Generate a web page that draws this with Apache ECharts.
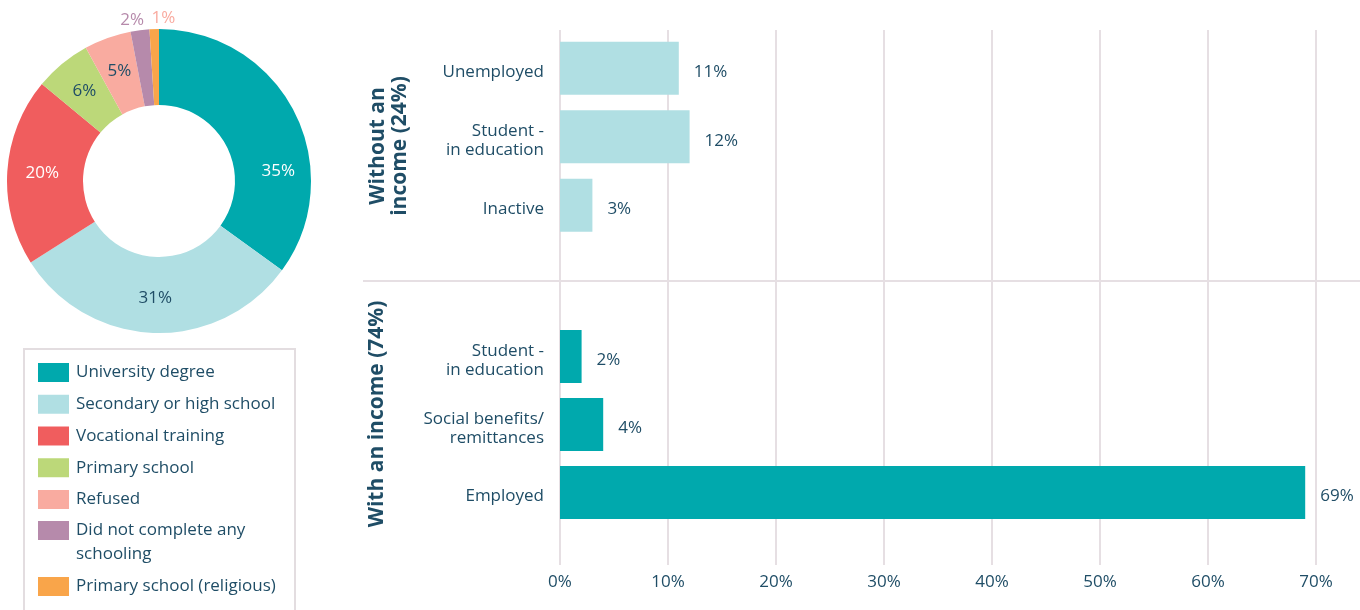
<!DOCTYPE html>
<html>
<head>
<meta charset="utf-8">
<script src="https://cdn.jsdelivr.net/npm/echarts@6/dist/echarts.min.js"></script>
<style>
  html, body { margin: 0; padding: 0; background: #ffffff; }
  #chart { width: 1360px; height: 610px; }
</style>
</head>
<body>
<div id="chart"></div>
<script>
// Education level of respondents (donut)
const educationLevels = [
  'University degree',
  'Secondary or high school',
  'Vocational training',
  'Primary school',
  'Refused',
  'Did not complete any schooling',
  'Primary school (religious)'
];
const educationShares = [35, 31, 20, 6, 5, 2, 1];

// Income situation (horizontal bars, two groups)
const withoutIncomeCategories = ['Unemployed', 'Student -\nin education', 'Inactive'];
const withoutIncomeValues = [11, 12, 3];
const withIncomeCategories = ['Student -\nin education', 'Social benefits/\nremittances', 'Employed'];
const withIncomeValues = [2, 4, 69];
const groupTitles = ['Without an\nincome (24%)', 'With an income (74%)'];
const percentTicks = [0, 10, 20, 30, 40, 50, 60, 70];

const FONT = '"Open Sans", "Noto Sans", sans-serif';
const FS = 17;
const NAVY = '#1f4d66';
const GRID_LINE = '#e6dfe3';
const sliceColors = ['#00a9ad', '#b0dfe3', '#f05d5e', '#bcd879', '#f9aba0', '#b68aab', '#f9a54a'];
const sliceLabelColors = ['#ffffff', NAVY, '#ffffff', NAVY, NAVY, '#b68aab', '#f9aba0'];
const outsideSlices = [5, 6];

const pieData = educationLevels.map((name, i) => ({
  name: name,
  value: educationShares[i],
  itemStyle: { color: sliceColors[i] },
  label: {
    color: sliceLabelColors[i],
    position: outsideSlices.includes(i) ? 'outside' : 'inside'
  }
}));

// The two-line legend entry gets an empty leading line so that its first
// visible line sits level with the swatch.
const legendText = name => name === 'Did not complete any schooling'
  ? '\nDid not complete any\nschooling' : name;

const legendBase = {
  orient: 'vertical',
  left: 38,
  padding: 0,
  itemWidth: 31,
  itemHeight: 19,
  icon: 'rect',
  selectedMode: false,
  formatter: legendText,
  textStyle: { fontSize: FS, color: NAVY, fontFamily: FONT, lineHeight: 24, padding: [0, 0, 0, 2] }
};

const tickMin = percentTicks[0];
const tickMax = percentTicks[percentTicks.length - 1];
const tickStep = percentTicks[1] - percentTicks[0];

const barLabel = {
  show: true,
  position: 'right',
  distance: 15,
  offset: [0, 4],
  formatter: '{c}%',
  fontSize: FS,
  color: NAVY,
  fontFamily: FONT
};

const categoryAxis = (gridIndex, data) => ({
  type: 'category',
  gridIndex: gridIndex,
  data: data,
  inverse: true,
  axisLine: { show: false },
  axisTick: { show: false },
  axisLabel: {
    fontSize: FS, lineHeight: 19, color: NAVY, fontFamily: FONT, margin: 16,
    padding: [8, 0, 0, 0],
    rich: { t: {} }
  }
});

const hiddenValueAxis = gridIndex => ({
  type: 'value', gridIndex: gridIndex, min: tickMin, max: tickMax, show: false
});

const option = {
  animation: false,
  backgroundColor: '#ffffff',
  textStyle: { fontFamily: FONT },
  legend: [
    Object.assign({}, legendBase, {
      top: 360.5,
      itemGap: 7.75,
      data: educationLevels.slice(0, 5)
    }),
    Object.assign({}, legendBase, {
      top: 494.5,
      itemGap: 8,
      data: educationLevels.slice(5)
    })
  ],
  grid: [
    { left: 560, right: 44, top: 30, bottom: 45 },
    { left: 560, right: 44, top: 34, height: 205.5 },
    { left: 560, right: 44, top: 322.5, height: 204 }
  ],
  xAxis: [
    {
      type: 'value',
      gridIndex: 0,
      min: tickMin,
      max: tickMax,
      interval: tickStep,
      axisLine: { show: false },
      axisTick: { show: false },
      splitLine: { show: true, lineStyle: { color: GRID_LINE, width: 2 } },
      axisLabel: { formatter: '{value}%', fontSize: FS, color: NAVY, fontFamily: FONT, margin: 9 }
    },
    hiddenValueAxis(1),
    hiddenValueAxis(2)
  ],
  yAxis: [
    { type: 'value', gridIndex: 0, show: false },
    categoryAxis(1, withoutIncomeCategories),
    categoryAxis(2, withIncomeCategories)
  ],
  graphic: [
    {
      type: 'rect',
      shape: { x: 24, y: 349, width: 271, height: 280 },
      style: { fill: 'none', stroke: '#e3dde0', lineWidth: 2 }
    },
    {
      type: 'line',
      shape: { x1: 363, y1: 281, x2: 1360, y2: 281 },
      style: { stroke: GRID_LINE, lineWidth: 2 }
    },
    {
      type: 'text',
      x: 389, y: 146,
      rotation: Math.PI / 2,
      style: {
        text: groupTitles[0],
        fontSize: 21, fontWeight: 'bold', fontFamily: FONT,
        fill: NAVY, align: 'center', verticalAlign: 'middle', lineHeight: 22
      }
    },
    {
      type: 'text',
      x: 377, y: 414,
      rotation: Math.PI / 2,
      style: {
        text: groupTitles[1],
        fontSize: 21, fontWeight: 'bold', fontFamily: FONT,
        fill: NAVY, align: 'center', verticalAlign: 'middle'
      }
    }
  ],
  series: [
    {
      type: 'pie',
      center: [159, 181],
      radius: [76, 152],
      startAngle: 90,
      clockwise: true,
      avoidLabelOverlap: false,
      label: {
        show: true,
        formatter: '{c}%',
        fontSize: FS,
        fontFamily: FONT
      },
      labelLine: { show: false, length: 0, length2: 0 },
      labelLayout: function (p) {
        if (p.dataIndex === 0) return { dx: 15, dy: 43 };
        if (p.dataIndex === 5) return { dx: 9, dy: -10 };
        if (p.dataIndex === 6) return { dx: 26, dy: -11 };
        return {};
      },
      emphasis: { disabled: true },
      data: pieData
    },
    {
      type: 'bar',
      xAxisIndex: 1,
      yAxisIndex: 1,
      barWidth: 53,
      itemStyle: { color: '#b0dfe3' },
      label: barLabel,
      emphasis: { disabled: true },
      data: withoutIncomeValues
    },
    {
      type: 'bar',
      xAxisIndex: 2,
      yAxisIndex: 2,
      barWidth: 53,
      itemStyle: { color: '#00a9ad' },
      label: barLabel,
      emphasis: { disabled: true },
      data: withIncomeValues
    }
  ]
};

const chart = echarts.init(document.getElementById('chart'), null, { renderer: 'canvas' });
chart.setOption(option);
</script>
</body>
</html>
